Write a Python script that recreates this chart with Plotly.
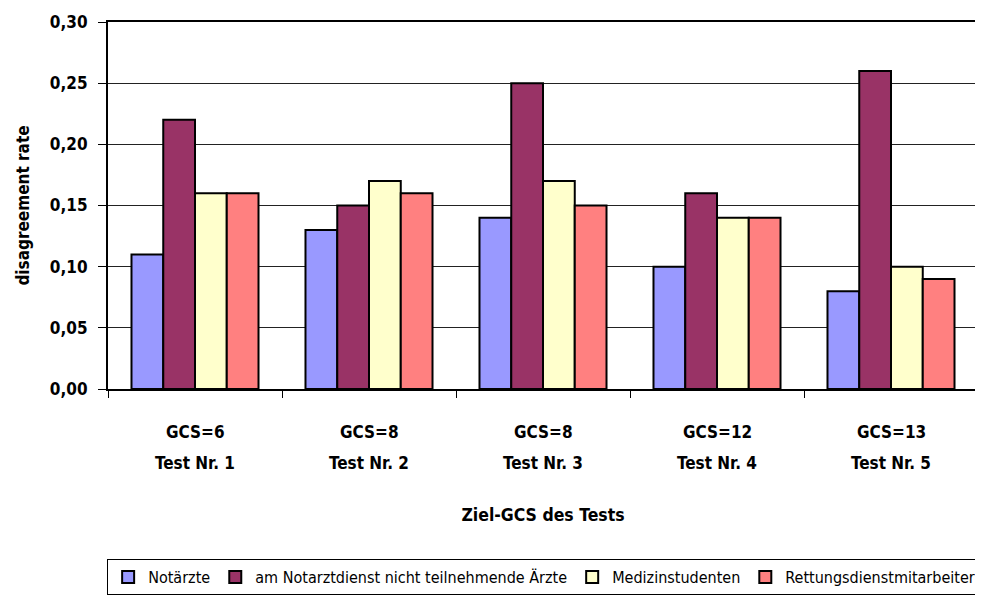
import plotly.graph_objects as go

tests = ["Test Nr. 1", "Test Nr. 2", "Test Nr. 3", "Test Nr. 4", "Test Nr. 5"]
gcs_labels = ["GCS=6", "GCS=8", "GCS=8", "GCS=12", "GCS=13"]
series_names = ["Notärzte", "am Notarztdienst nicht teilnehmende Ärzte",
                "Medizinstudenten", "Rettungsdienstmitarbeiter"]
notaerzte = [0.11, 0.13, 0.14, 0.10, 0.08]
nicht_teilnehmende = [0.22, 0.15, 0.25, 0.16, 0.26]
medizinstudenten = [0.16, 0.17, 0.17, 0.14, 0.10]
rettungsdienst = [0.16, 0.16, 0.15, 0.14, 0.09]
y_ticks = [0, 0.05, 0.10, 0.15, 0.20, 0.25, 0.30]

colors = ["#9999FF", "#993366", "#FFFFCC", "#FF8080"]
FONT = "DejaVu Sans Condensed, DejaVu Sans, sans-serif"

fig = go.Figure()
for name, vals, col in zip(series_names,
                           [notaerzte, nicht_teilnehmende, medizinstudenten, rettungsdienst],
                           colors):
    fig.add_trace(go.Bar(x=tests, y=vals, name=name,
                         marker=dict(color=col, line=dict(color="black", width=2))))

# two-line category labels, placed on the category axis
for t, g in zip(tests, gcs_labels):
    fig.add_annotation(x=t, xref="x", y=-0.1172, yref="paper", text="<b>%s</b>" % g,
                       showarrow=False, yanchor="middle",
                       font=dict(size=17, family=FONT, color="black"))
    fig.add_annotation(x=t, xref="x", y=-0.2016, yref="paper", text="<b>%s</b>" % t,
                       showarrow=False, yanchor="middle",
                       font=dict(size=17, family=FONT, color="black"))

# page has an 8px body margin, so the figure is 975x588 to fill the 983x596 window
fig.update_layout(
    width=975, height=588,
    barmode="group", bargap=0.27, bargroupgap=0,
    separators=",.",
    paper_bgcolor="white", plot_bgcolor="white",
    margin=dict(l=100, r=5, t=14, b=207, autoexpand=False),
    font=dict(family=FONT, color="black"),
    showlegend=True,
    legend=dict(orientation="h", x=-0.001, xanchor="left", y=-0.4632, yanchor="top",
                bordercolor="black", borderwidth=1, font=dict(size=16, family=FONT),
                traceorder="normal"),
    xaxis=dict(showline=True, linecolor="black", linewidth=2, mirror=True,
               ticks="outside", tickson="boundaries", ticklen=7, tickcolor="black",
               showticklabels=False,
               title=dict(text="<b>Ziel-GCS des Tests</b>", font=dict(size=17.5), standoff=119)),
    yaxis=dict(range=[0, 0.30], tickvals=y_ticks, tickformat=".2f",
               showline=True, linecolor="black", linewidth=2, mirror=True,
               ticks="outside", ticklen=8, tickcolor="black", ticklabelstandoff=7,
               showgrid=True, gridcolor="#222222", gridwidth=1,
               tickfont=dict(size=17, family=FONT, weight="bold"),
               title=dict(text="<b>disagreement rate</b>", font=dict(size=17), standoff=16)),
)

fig.write_html("out.html")
